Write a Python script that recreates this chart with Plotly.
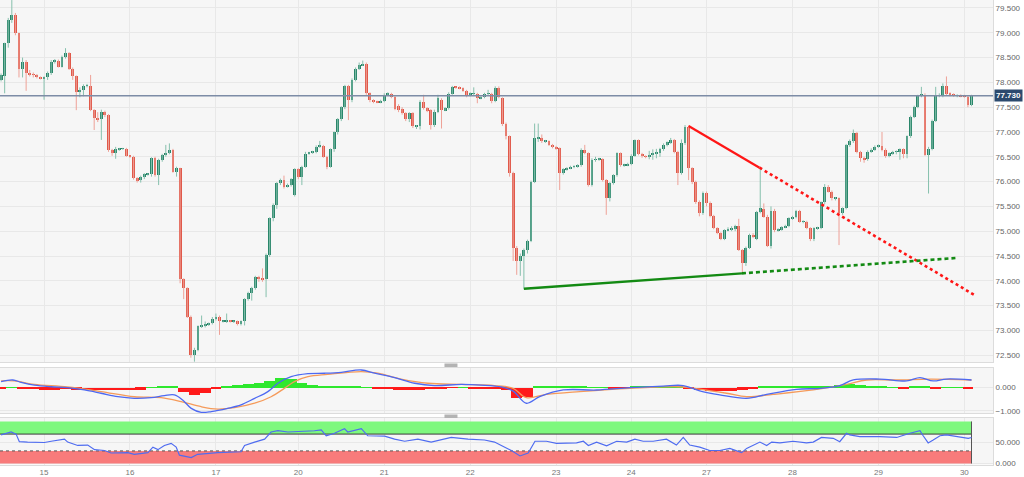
import plotly.graph_objects as go
from plotly.subplots import make_subplots

# ---------------- DATA (hourly candles, slot index = hour position) ----------------
opens = [
 78.05, 78.12, 78.79, 79.26, 79.36, 78.99, 78.28, 78.42, 78.18, 78.16,
 78.15, 78.10, 78.08, 78.10, 78.18, 78.42, 78.44, 78.32, 78.52, 78.59,
 78.28, 78.12, 77.81, 77.85, 77.93, 77.93, 77.44, 77.28, 77.26, 77.41,
 77.34, 76.64, 76.57, 76.65, 76.66, 76.66, 76.52, 76.50, 76.07, 76.03,
 76.10, 76.15, 76.15, 76.47, 76.13, 76.44, 76.54, 76.58, 76.64, 76.20,
 76.27, 74.03, 73.85, 73.28, 72.50, 72.61, 73.08, 73.10, 73.11, 73.14,
 73.24, 73.28, 73.18, 73.18, 73.19, 73.18, 73.18, 73.14, 73.18, 73.63,
 73.76, 73.85, 74.08, 74.05, 74.03, 74.52, 75.26, 75.53, 75.97, 76.03,
 75.90, 75.93, 75.72, 76.25, 76.10, 76.30, 76.56, 76.58, 76.60, 76.70,
 76.72, 76.50, 76.30, 76.65, 76.99, 77.26, 77.50, 77.93, 77.65, 78.05,
 78.28, 78.35, 78.38, 77.78, 77.65, 77.61, 77.60, 77.63, 77.75, 77.77,
 77.70, 77.52, 77.46, 77.38, 77.26, 77.38, 77.12, 77.12, 77.61, 77.48,
 77.44, 77.14, 77.41, 77.65, 77.44, 77.48, 77.77, 77.91, 77.90, 77.88,
 77.83, 77.75, 77.77, 77.77, 77.68, 77.70, 77.77, 77.77, 77.63, 77.88,
 77.68, 77.17, 76.91, 76.17, 74.67, 74.39, 74.50, 74.62, 74.81, 76.00,
 76.87, 76.87, 76.81, 76.81, 76.74, 76.70, 76.67, 76.17, 76.25, 76.27,
 76.30, 76.30, 76.33, 76.64, 76.57, 75.93, 76.44, 76.45, 76.45, 76.03,
 75.66, 75.97, 76.13, 76.57, 76.33, 76.33, 76.35, 76.52, 76.83, 76.56,
 76.51, 76.50, 76.54, 76.57, 76.57, 76.65, 76.74, 76.79, 76.83, 76.60,
 76.17, 76.77, 77.11, 76.27, 76.00, 75.58, 75.36, 75.78, 75.56, 75.31,
 75.06, 74.96, 74.84, 75.02, 75.04, 75.04, 75.11, 74.62, 74.35, 74.67,
 74.92, 74.84, 75.39, 75.44, 75.29, 74.70, 75.41, 75.02, 75.04, 75.08,
 75.11, 75.26, 75.29, 75.41, 75.19, 75.19, 75.06, 74.84, 75.06, 75.06,
 75.58, 75.90, 75.80, 75.66, 75.66, 75.36, 75.46, 76.74, 76.81, 76.97,
 76.60, 76.47, 76.45, 76.60, 76.64, 76.70, 76.72, 76.64, 76.52, 76.57,
 76.60, 76.60, 76.65, 76.55, 76.91, 77.31, 77.51, 77.73, 77.75, 76.54,
 76.66, 77.23, 77.73, 77.73, 77.93, 77.77, 77.75, 77.73, 77.73, 77.72,
 77.71, 77.54]
highs = [
 78.18, 78.80, 79.30, 79.66, 79.40, 79.00, 78.50, 78.45, 78.25, 78.20,
 78.17, 78.12, 78.12, 78.22, 78.45, 78.47, 78.46, 78.54, 78.69, 78.61,
 78.30, 78.14, 77.90, 77.96, 77.97, 78.15, 77.46, 77.40, 77.45, 77.43,
 77.36, 76.66, 76.70, 76.68, 76.68, 76.68, 76.53, 76.52, 76.09, 76.12,
 76.17, 76.17, 76.49, 76.50, 76.46, 76.56, 76.74, 76.77, 76.66, 76.30,
 76.28, 74.05, 73.87, 73.30, 72.65, 73.10, 73.30, 73.18, 73.16, 73.27,
 73.34, 73.30, 73.20, 73.34, 73.21, 73.20, 73.20, 73.20, 73.65, 73.78,
 73.88, 74.10, 74.10, 74.25, 74.55, 75.28, 75.56, 75.99, 76.06, 76.12,
 75.96, 76.07, 76.27, 76.27, 76.32, 76.60, 76.60, 76.62, 76.73, 76.82,
 76.74, 76.52, 76.67, 77.01, 77.28, 77.52, 77.95, 77.95, 78.08, 78.30,
 78.40, 78.44, 78.40, 77.80, 77.66, 77.63, 77.65, 77.78, 77.80, 77.79,
 77.72, 77.56, 77.50, 77.40, 77.40, 77.40, 77.14, 77.64, 77.75, 77.50,
 77.46, 77.45, 77.75, 77.68, 77.50, 77.80, 77.93, 77.92, 77.92, 77.90,
 77.85, 77.80, 77.90, 77.79, 77.72, 77.79, 77.85, 77.79, 77.92, 77.92,
 77.70, 77.19, 76.93, 76.20, 74.70, 74.55, 74.65, 74.83, 76.02, 77.17,
 77.17, 76.95, 76.84, 76.83, 76.76, 76.72, 76.69, 76.27, 76.29, 76.32,
 76.33, 76.35, 76.67, 76.74, 76.59, 76.47, 76.50, 76.48, 76.47, 76.05,
 75.99, 76.15, 76.59, 76.59, 76.36, 76.38, 76.55, 76.85, 76.85, 76.58,
 76.53, 76.62, 76.65, 76.66, 76.68, 76.77, 76.81, 76.88, 76.86, 76.62,
 76.85, 77.14, 77.13, 76.29, 76.02, 75.62, 75.80, 75.80, 75.60, 75.33,
 75.08, 74.98, 75.04, 75.08, 75.10, 75.13, 75.25, 74.64, 74.69, 74.95,
 74.96, 75.41, 76.27, 75.56, 75.33, 75.50, 75.45, 75.06, 75.10, 75.13,
 75.28, 75.31, 75.43, 75.43, 75.22, 75.21, 75.08, 75.08, 75.09, 75.60,
 75.95, 75.93, 75.82, 75.69, 75.68, 75.48, 76.76, 76.85, 77.05, 77.00,
 76.62, 76.50, 76.63, 76.67, 76.73, 76.75, 77.00, 76.67, 76.59, 76.62,
 76.63, 76.67, 76.67, 76.93, 77.33, 77.53, 77.75, 77.91, 77.78, 76.70,
 77.25, 77.91, 77.78, 77.98, 78.12, 77.80, 77.78, 77.76, 77.76, 77.75,
 77.73, 77.75]
lows = [
 78.02, 77.78, 78.70, 79.20, 78.95, 78.10, 78.10, 77.83, 78.12, 78.10,
 78.08, 78.06, 77.65, 78.05, 78.15, 78.38, 78.30, 78.30, 78.48, 78.25,
 78.05, 77.44, 77.70, 77.72, 77.90, 77.42, 77.04, 77.20, 76.84, 77.30,
 76.60, 76.52, 76.46, 76.62, 76.64, 76.50, 76.48, 76.04, 75.98, 75.98,
 76.05, 76.12, 76.10, 76.10, 75.93, 76.40, 76.50, 76.55, 76.18, 76.10,
 73.95, 73.63, 73.25, 72.45, 72.37, 72.58, 73.05, 73.06, 73.09, 73.12,
 73.20, 72.91, 73.16, 73.15, 73.16, 73.15, 73.10, 73.10, 73.10, 73.60,
 73.60, 73.82, 73.98, 73.98, 73.67, 74.48, 75.20, 75.45, 75.93, 75.86,
 75.88, 75.90, 75.70, 76.05, 75.93, 76.28, 76.54, 76.56, 76.57, 76.68,
 76.48, 76.25, 76.28, 76.60, 76.95, 77.22, 77.46, 77.24, 77.60, 78.02,
 78.25, 78.33, 77.75, 77.60, 77.58, 77.58, 77.58, 77.60, 77.73, 77.68,
 77.44, 77.40, 77.35, 77.22, 77.20, 77.08, 77.06, 77.05, 77.45, 77.40,
 77.05, 77.10, 77.38, 77.07, 77.42, 77.45, 77.75, 77.87, 77.86, 77.81,
 77.70, 77.72, 77.74, 77.58, 77.66, 77.68, 77.73, 77.58, 77.60, 77.68,
 77.12, 76.85, 76.10, 74.40, 74.12, 74.10, 73.84, 74.55, 74.78, 75.97,
 76.80, 76.78, 76.78, 76.72, 76.67, 76.64, 75.83, 76.14, 76.22, 76.25,
 76.27, 76.28, 76.30, 76.55, 75.90, 75.90, 76.40, 76.42, 76.00, 75.33,
 75.60, 75.94, 76.10, 76.30, 76.30, 76.31, 76.33, 76.50, 76.53, 76.48,
 76.47, 76.45, 76.44, 76.47, 76.50, 76.62, 76.71, 76.76, 76.57, 75.93,
 76.14, 76.74, 76.03, 75.95, 75.55, 75.30, 75.33, 75.50, 75.28, 75.04,
 74.94, 74.82, 74.82, 75.00, 75.00, 75.00, 74.60, 74.15, 74.30, 74.64,
 74.86, 74.82, 75.36, 75.27, 74.68, 74.65, 74.98, 74.99, 75.01, 75.06,
 75.08, 75.23, 75.26, 75.17, 75.16, 75.04, 74.80, 74.80, 75.03, 75.04,
 75.55, 75.78, 75.62, 75.62, 74.72, 75.33, 75.44, 76.70, 76.78, 76.57,
 76.40, 76.38, 76.42, 76.58, 76.62, 76.68, 76.61, 76.48, 76.49, 76.54,
 76.55, 76.44, 76.47, 76.47, 76.88, 77.28, 77.48, 77.70, 76.52, 75.76,
 76.63, 77.20, 77.70, 77.70, 77.74, 77.72, 77.71, 77.70, 77.70, 77.69,
 77.50, 77.52]
closes = [
 78.15, 78.79, 79.26, 79.36, 78.99, 78.28, 78.42, 78.18, 78.16, 78.15,
 78.10, 78.08, 78.10, 78.18, 78.42, 78.44, 78.32, 78.52, 78.59, 78.28,
 78.12, 77.81, 77.85, 77.93, 77.94, 77.44, 77.28, 77.26, 77.41, 77.34,
 76.64, 76.57, 76.65, 76.66, 76.66, 76.52, 76.50, 76.07, 76.03, 76.10,
 76.15, 76.15, 76.47, 76.13, 76.44, 76.54, 76.58, 76.64, 76.20, 76.27,
 74.03, 73.85, 73.28, 72.50, 72.61, 73.08, 73.10, 73.11, 73.14, 73.24,
 73.28, 73.18, 73.18, 73.19, 73.18, 73.18, 73.14, 73.18, 73.63, 73.76,
 73.85, 74.08, 74.03, 74.03, 74.52, 75.26, 75.53, 75.97, 76.03, 75.90,
 75.93, 76.05, 76.25, 76.10, 76.30, 76.56, 76.58, 76.60, 76.70, 76.72,
 76.50, 76.30, 76.65, 76.99, 77.26, 77.50, 77.93, 77.65, 78.05, 78.28,
 78.35, 78.38, 77.78, 77.65, 77.61, 77.60, 77.63, 77.75, 77.77, 77.70,
 77.46, 77.44, 77.38, 77.26, 77.38, 77.12, 77.12, 77.61, 77.48, 77.44,
 77.14, 77.41, 77.68, 77.44, 77.48, 77.77, 77.91, 77.90, 77.88, 77.83,
 77.75, 77.77, 77.77, 77.68, 77.70, 77.77, 77.77, 77.63, 77.88, 77.71,
 77.17, 76.91, 76.17, 74.67, 74.39, 74.50, 74.62, 74.81, 76.00, 76.87,
 76.87, 76.81, 76.81, 76.74, 76.70, 76.67, 76.17, 76.25, 76.27, 76.30,
 76.30, 76.33, 76.64, 76.57, 75.93, 76.44, 76.45, 76.45, 76.03, 75.66,
 75.97, 76.13, 76.57, 76.33, 76.33, 76.35, 76.52, 76.83, 76.56, 76.51,
 76.50, 76.54, 76.57, 76.57, 76.65, 76.74, 76.79, 76.83, 76.60, 76.17,
 76.77, 77.11, 76.27, 76.00, 75.58, 75.36, 75.78, 75.56, 75.31, 75.06,
 74.96, 74.84, 75.02, 75.04, 75.04, 75.11, 74.62, 74.35, 74.67, 74.92,
 74.90, 75.39, 75.46, 75.29, 74.70, 75.41, 75.02, 75.04, 75.08, 75.11,
 75.26, 75.29, 75.41, 75.19, 75.19, 75.06, 74.84, 75.06, 75.06, 75.58,
 75.90, 75.80, 75.66, 75.66, 75.36, 75.46, 76.74, 76.81, 76.97, 76.60,
 76.47, 76.45, 76.60, 76.64, 76.70, 76.72, 76.64, 76.52, 76.57, 76.60,
 76.60, 76.65, 76.55, 76.91, 77.31, 77.51, 77.73, 77.75, 76.54, 76.66,
 77.23, 77.73, 77.73, 77.93, 77.77, 77.75, 77.73, 77.73, 77.72, 77.71,
 77.54, 77.73]

day_labels = ["15", "16", "17", "20", "21", "22", "23", "24", "27", "28", "29", "30"]
day_slots = [12, 36, 60, 83, 107, 131, 155, 176, 197, 221, 245, 269]
price_ticks = [72.5, 73.0, 73.5, 74.0, 74.5, 75.0, 75.5, 76.0, 76.5, 77.0, 77.5, 78.0, 78.5, 79.0, 79.5]
last_price = 77.73

# trend lines (slot, price)
res_solid_x = [192.0, 211.8]; res_solid_y = [77.12, 76.28]
res_dot_x = [211.8, 271.9];   res_dot_y = [76.28, 73.71]
sup_solid_x = [146.0, 206.9]; sup_solid_y = [73.84, 74.15]
sup_dot_x = [206.9, 266.8];   sup_dot_y = [74.15, 74.46]

# MACD (slot, value)
macd_x = [0, 3.3, 5.6, 9.3, 14, 18.6, 23.3, 27.9, 32.6, 37.2, 41.9, 45.6, 48.4, 50.7, 53.1, 55.9,
          58.7, 63.3, 67, 70.8, 74.5, 77.3, 81, 85.7, 90.3, 95, 100.6, 104.3, 109.9, 115.5, 121,
          128.5, 134, 139.7, 143, 146.7, 150.4, 157, 166.3, 175.6, 184.9, 190.5, 195.1, 200.7,
          208.2, 213.8, 222.1, 228.7, 234.2, 238, 245.4, 252.9, 256.6, 260.3, 264, 271]
macd_v = [0.26, 0.33, 0.23, 0.11, 0.04, 0.00, -0.10, -0.24, -0.39, -0.46, -0.43, -0.34, -0.31, -0.53,
          -0.89, -1.06, -1.03, -0.89, -0.74, -0.46, -0.17, 0.19, 0.47, 0.60, 0.62, 0.66, 0.76, 0.62,
          0.43, 0.19, 0.09, 0.14, 0.11, 0.03, -0.15, -0.67, -0.39, -0.10, -0.10, 0.00, 0.07, 0.09,
          -0.14, -0.31, -0.46, -0.29, -0.07, -0.03, 0.09, 0.33, 0.37, 0.29, 0.43, 0.29, 0.37, 0.33]
signal_x = [0, 3.7, 9.3, 18.6, 27.9, 37.2, 44.7, 50.3, 55.9, 60.5, 65.2, 70.8, 75.4, 79.1, 81.9,
            85.7, 91.2, 100.6, 105.2, 111.7, 119.2, 128.5, 137.8, 143, 146.7, 152.3, 161.6, 175.6,
            189.6, 195.1, 202.6, 208.2, 215.6, 226.8, 236.1, 241.7, 250.1, 259.4, 271]
signal_v = [0.29, 0.29, 0.14, 0.03, -0.17, -0.39, -0.43, -0.60, -0.82, -0.92, -0.86, -0.67, -0.39,
            -0.03, 0.26, 0.47, 0.57, 0.69, 0.62, 0.37, 0.19, 0.14, 0.09, -0.03, -0.43, -0.29, -0.17,
            -0.03, 0.04, -0.06, -0.24, -0.39, -0.29, -0.10, 0.14, 0.33, 0.33, 0.37, 0.33]
hist_v = [-0.05, 0.02, -0.04, -0.07, -0.08, -0.08, -0.06, -0.08, -0.09, -0.10, -0.10, -0.10, -0.09,
          -0.08, 0.02, 0.05, 0.03, -0.18, -0.32, -0.22, -0.06, 0.05, 0.10, 0.14, 0.20, 0.28, 0.40,
          0.36, 0.22, 0.12, 0.04, 0.03, 0.05, 0.06, 0.02, -0.05, -0.07, -0.08, -0.08, -0.08, -0.05,
          -0.02, -0.01, 0.01, -0.02, -0.03, -0.04, -0.08, -0.44, -0.38, 0.06, 0.08, 0.05, 0.03, 0.03,
          0.02, 0.01, -0.02, -0.02, 0.03, 0.04, 0.04, 0.04, 0.04, -0.02, -0.12, -0.15, -0.15, -0.13,
          -0.08, -0.02, 0.04, 0.05, 0.05, 0.04, 0.05, 0.06, 0.08, 0.10, 0.14, 0.10, 0.07, 0.03, 0.01,
          -0.02, 0.04, 0.03, -0.04, 0.02, 0.01, -0.02]
hist_step = 3

# RSI (slot, value)
rsi_x = [0, 2.8, 4.2, 5.1, 7.4, 12.1, 14, 16.3, 17.7, 18.6, 21.4, 24.2, 26.1, 28.9, 30.7, 35.4, 37.2,
         41, 42.4, 43.8, 45.6, 47.5, 48.9, 49.8, 53.1, 54.9, 60.5, 67, 68, 70.8, 73.6, 75.4, 77.3,
         80.1, 83.8, 87.5, 89.4, 90.8, 93.1, 95.9, 96.8, 100.6, 102.4, 107.1, 109.9, 112.7, 116.4,
         120.1, 125.7, 130.4, 135, 137.8, 139.7, 142.5, 144.9, 147.2, 149.1, 152.3, 155.1, 160.7,
         162.6, 164, 166.3, 169.1, 171.9, 174.7, 177, 179.3, 182.1, 185.8, 188.6, 190.5, 192.3,
         195.1, 197.9, 200.7, 203.5, 206.8, 208.2, 210, 211.9, 213.8, 215.2, 217.5, 221.2, 224.9,
         226.8, 229.1, 232.4, 234.2, 236.1, 237, 239.8, 245.4, 250.1, 253.8, 256.6, 257.5, 258.9,
         260.3, 262.2, 264, 267.8, 270.1, 271]
rsi_v = [68, 75, 70, 52, 51, 50, 53, 56, 58, 51, 43, 44, 33, 31, 25, 26, 22, 26, 39, 33, 43, 48, 39,
         20, 14, 22, 26, 28, 43, 51, 58, 75, 78, 75, 76, 78, 80, 66, 72, 83, 75, 83, 66, 65, 58, 53,
         58, 51, 62, 58, 56, 51, 43, 31, 18, 25, 53, 53, 48, 49, 53, 43, 51, 42, 53, 51, 58, 53, 53,
         58, 44, 62, 44, 39, 31, 31, 36, 26, 36, 44, 51, 43, 51, 49, 53, 49, 51, 62, 60, 52, 72, 68,
         64, 64, 62, 72, 78, 66, 49, 56, 66, 68, 64, 60, 62]
rsi_upper = 70
rsi_lower = 30
rsi_band_end = 271

# ---------------- STYLE ----------------
UP_BODY, DN_BODY = "#2a866a", "#e0594a"
UP_WICK, DN_WICK = "#86c0ad", "#eea197"
GRID = "#e8e8e8"
BORDER = "#dcdcdc"
YFONT = dict(family="Arial, Liberation Sans, sans-serif", size=8, color="#666666")
XFONT = dict(family="Arial, Liberation Sans, sans-serif", size=8, color="#777777")
X_RANGE = [-0.3, 277.0]

fig = make_subplots(rows=3, cols=1, shared_xaxes=True, vertical_spacing=0.0)

n = len(closes)
up = [i for i in range(n) if closes[i] >= opens[i]]
dn = [i for i in range(n) if closes[i] < opens[i]]


def wicks(idx):
    xs, ys = [], []
    for i in idx:
        xs += [i, i, None]
        ys += [lows[i], highs[i], None]
    return xs, ys


for idx, wc in [(up, UP_WICK), (dn, DN_WICK)]:
    wx, wy = wicks(idx)
    fig.add_trace(go.Scatter(x=wx, y=wy, mode="lines", line=dict(color=wc, width=1),
                             hoverinfo="skip"), row=1, col=1)
for idx, bc in [(up, UP_BODY), (dn, DN_BODY)]:
    fig.add_trace(go.Bar(x=idx,
                         y=[max(abs(closes[i] - opens[i]), 0.012) for i in idx],
                         base=[min(opens[i], closes[i]) for i in idx],
                         width=0.8, marker=dict(color=bc, line=dict(width=0)),
                         hoverinfo="skip"), row=1, col=1)

# trend lines
fig.add_trace(go.Scatter(x=res_solid_x, y=res_solid_y, mode="lines",
                         line=dict(color="#ff1616", width=2.2)), row=1, col=1)
fig.add_trace(go.Scatter(x=res_dot_x, y=res_dot_y, mode="lines",
                         line=dict(color="#ff1616", width=2.6, dash="dot")), row=1, col=1)
fig.add_trace(go.Scatter(x=sup_solid_x, y=sup_solid_y, mode="lines",
                         line=dict(color="#138a13", width=2.4)), row=1, col=1)
fig.add_trace(go.Scatter(x=sup_dot_x, y=sup_dot_y, mode="lines",
                         line=dict(color="#138a13", width=2.6, dash="4px,3px")), row=1, col=1)

# MACD
hist_x = [hist_step * i for i in range(len(hist_v))]
fig.add_trace(go.Bar(x=hist_x, y=hist_v, width=hist_step,
                     marker=dict(color=["#2ee82e" if v >= 0 else "#ff1a1a" for v in hist_v],
                                 line=dict(width=0)),
                     hoverinfo="skip"), row=2, col=1)
fig.add_trace(go.Scatter(x=signal_x, y=signal_v, mode="lines",
                         line=dict(color="#f59a5a", width=1.3, shape="spline")), row=2, col=1)
fig.add_trace(go.Scatter(x=macd_x, y=macd_v, mode="lines",
                         line=dict(color="#4d69f2", width=1.3, shape="spline")), row=2, col=1)

# RSI
fig.add_trace(go.Scatter(x=rsi_x, y=rsi_v, mode="lines",
                         line=dict(color="#4f6cf0", width=1.2)), row=3, col=1)

shapes = [
    dict(type="line", xref="paper", x0=0, x1=1, yref="y", y0=last_price, y1=last_price,
         line=dict(color="#7d8ca6", width=1.5)),
    dict(type="rect", xref="x3", yref="y3", x0=X_RANGE[0], x1=rsi_band_end, y0=rsi_upper, y1=100,
         fillcolor="#7ef87e", line=dict(width=0), layer="between"),
    dict(type="rect", xref="x3", yref="y3", x0=X_RANGE[0], x1=rsi_band_end, y0=0, y1=rsi_lower,
         fillcolor="#f87b7b", line=dict(width=0), layer="between"),
    dict(type="line", xref="x3", yref="y3", x0=X_RANGE[0], x1=rsi_band_end, y0=rsi_upper, y1=rsi_upper,
         line=dict(color="#3a3a3a", width=1), layer="between"),
    dict(type="line", xref="x3", yref="y3", x0=X_RANGE[0], x1=rsi_band_end, y0=rsi_lower, y1=rsi_lower,
         line=dict(color="#555555", width=1, dash="dot"), layer="between"),
    dict(type="line", xref="x3", yref="y3", x0=rsi_band_end, x1=rsi_band_end, y0=0, y1=100,
         line=dict(color="#555555", width=1), layer="between"),
    # panel drag handles
    dict(type="rect", xref="paper", yref="paper", x0=0.4476, x1=0.4607, y0=0.2108, y1=0.2183,
         fillcolor="#b3b3b3", line=dict(width=0)),
    dict(type="rect", xref="paper", yref="paper", x0=0.4476, x1=0.4607, y0=0.1011, y1=0.1086,
         fillcolor="#b3b3b3", line=dict(width=0)),
]

fig.update_layout(
    width=1024, height=477,
    margin=dict(l=0, r=31, t=0, b=12, autoexpand=False),
    paper_bgcolor="white", plot_bgcolor="#f6f6f6",
    showlegend=False, barmode="overlay", bargap=0, hovermode=False,
    shapes=shapes,
    annotations=[dict(xref="paper", x=1.0, xanchor="left", yref="y", y=last_price,
                      text="<b>77.730</b>", showarrow=False, bgcolor="#2c4a6e",
                      font=dict(family="Arial, Liberation Sans, sans-serif", size=8, color="white"),
                      borderpad=1, xshift=1)],
)

for ax in ["xaxis", "xaxis2", "xaxis3"]:
    fig.layout[ax].update(range=X_RANGE, tickvals=day_slots, ticktext=day_labels,
                          showgrid=True, gridcolor=GRID, zeroline=False, automargin=False,
                          showline=True, linecolor=BORDER, mirror=True, ticks="",
                          tickfont=XFONT)
fig.layout.xaxis.showticklabels = False
fig.layout.xaxis2.showticklabels = False
fig.layout.xaxis3.showticklabels = True

common_y = dict(side="right", tickformat=".3f", showgrid=True, gridcolor=GRID, zeroline=False,
                showline=True, linecolor=BORDER, mirror=True, ticks="", tickfont=YFONT,
                automargin=False)
fig.layout.yaxis.update(domain=[0.2215, 1.0], range=[72.363, 79.661], tickvals=price_ticks, **common_y)
fig.layout.yaxis2.update(domain=[0.1118, 0.2086], range=[-1.09, 0.845], tickvals=[-1, 0], **common_y)
fig.layout.yaxis3.update(domain=[0.001, 0.1011], range=[-2.4, 108.3], tickvals=[0, 50], **common_y)

fig.write_html("out.html", config={"displayModeBar": False},
               post_script="document.body.style.margin='0px';document.body.style.overflow='hidden';")
